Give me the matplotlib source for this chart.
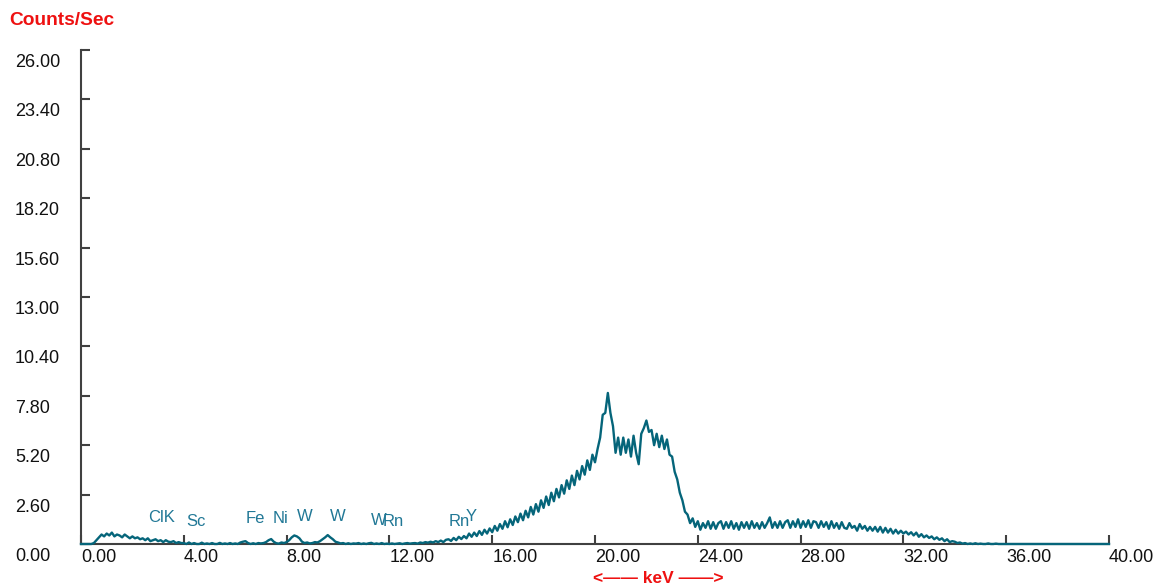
import numpy as np
import matplotlib
matplotlib.use("Agg")
import matplotlib.pyplot as plt

plt.rcParams["font.family"] = ["Liberation Sans", "DejaVu Sans"]

# spectrum, 0.1 keV channels from 0.0 to 35.9 keV (counts/sec), zero after
energy_kev = np.round(np.arange(0, 36.0, 0.1), 1)
counts = [
    0, 0, 0, 0, 0, 0.05, 0.2, 0.35, 0.5, 0.4,
    0.55, 0.45, 0.6, 0.4, 0.5, 0.45, 0.35, 0.5, 0.4, 0.3,
    0.4, 0.3, 0.35, 0.25, 0.3, 0.2, 0.3, 0.15, 0.2, 0.25,
    0.15, 0.2, 0.1, 0.2, 0.12, 0.1, 0.15, 0.05, 0.1, 0.05,
    0.05, 0, 0.08, 0, 0.05, 0, 0, 0.07, 0, 0.03,
    0, 0.05, 0, 0, 0.06, 0, 0.03, 0, 0.05, 0,
    0.03, 0, 0.08, 0.12, 0.15, 0.05, 0, 0.04, 0, 0.05,
    0.03, 0.05, 0.1, 0.2, 0.26, 0.12, 0.04, 0.02, 0.08, 0.05,
    0.1, 0.2, 0.35, 0.45, 0.4, 0.3, 0.12, 0.05, 0.08, 0.03,
    0.05, 0.1, 0.08, 0.15, 0.25, 0.35, 0.47, 0.35, 0.25, 0.12,
    0.08, 0.03, 0.05, 0, 0.04, 0, 0.03, 0.02, 0.05, 0,
    0.03, 0, 0.04, 0.06, 0, 0.03, 0, 0.05, 0, 0.02,
    0, 0.03, 0, 0.02, 0.04, 0, 0.03, 0.05, 0.02, 0.04,
    0.05, 0.02, 0.08, 0.05, 0.1, 0.07, 0.12, 0.08, 0.15, 0.1,
    0.18, 0.1, 0.22, 0.25, 0.16, 0.32, 0.2, 0.38, 0.26, 0.42,
    0.3, 0.55, 0.38, 0.6, 0.42, 0.68, 0.48, 0.75, 0.55, 0.82,
    0.62, 0.95, 0.7, 1.05, 0.8, 1.2, 0.88, 1.3, 1.0, 1.45,
    1.15, 1.6, 1.25, 1.75, 1.4, 1.95, 1.55, 2.1, 1.7, 2.3,
    1.9, 2.5, 2.05, 2.7, 2.25, 2.9, 2.45, 3.1, 2.65, 3.35,
    2.9, 3.6, 3.1, 3.85, 3.4, 4.1, 3.65, 4.4, 3.9, 4.7,
    4.3, 5.0, 5.6, 6.8, 6.9, 7.95, 6.9, 6.2, 4.8, 5.6,
    4.7, 5.6, 4.8, 5.5, 4.6, 5.7, 4.8, 4.2, 5.8, 6.1,
    6.5, 5.9, 6.0, 5.2, 5.8, 5.1, 5.7, 5.0, 5.5, 4.7,
    4.6, 3.8, 3.4, 2.7, 2.3, 1.7, 1.55, 1.1, 1.35, 0.9,
    1.2, 0.75, 1.1, 0.85, 1.2, 0.8, 1.15, 0.8, 1.1, 1.2,
    0.8, 1.15, 0.85, 1.2, 0.8, 1.1, 0.75, 1.15, 0.85, 1.15,
    0.8, 1.2, 0.85, 1.1, 0.8, 1.15, 0.85, 1.1, 1.4, 0.85,
    1.15, 0.85, 1.2, 0.85, 1.15, 1.25, 0.85, 1.2, 0.9, 1.3,
    0.85, 1.2, 0.9, 1.25, 0.85, 1.2, 1.15, 0.85, 1.2, 0.9,
    1.15, 0.8, 1.2, 0.85, 1.1, 0.8, 1.15, 0.85, 0.8, 1.1,
    0.85, 0.95, 0.7, 1.05, 0.8, 0.95, 0.7, 0.9, 0.7, 0.9,
    0.65, 0.9, 0.6, 0.85, 0.6, 0.8, 0.55, 0.75, 0.55, 0.7,
    0.55, 0.65, 0.5, 0.62, 0.45, 0.6, 0.38, 0.52, 0.35, 0.45,
    0.32, 0.4, 0.25, 0.35, 0.22, 0.3, 0.15, 0.25, 0.1, 0.15,
    0.12, 0.05, 0.08, 0.02, 0.05, 0, 0.03, 0, 0.04, 0,
    0.02, 0, 0, 0.03, 0, 0, 0.02, 0, 0, 0,
]
tail_kev = [36.0, 40.0]
tail_counts = [0, 0]

# element markers: label, line energy (keV), label height (counts/sec)
elements = ["ClK", "Sc", "Fe", "Ni", "W", "W", "W", "Rn", "Rn", "Y"]
element_kev = [2.62, 4.09, 6.40, 7.47, 8.40, 9.67, 11.29, 11.73, 14.32, 14.96]
element_height = [1.42, 1.16, 1.32, 1.32, 1.47, 1.47, 1.26, 1.16, 1.21, 1.47]

x_ticks = [0, 4, 8, 12, 16, 20, 24, 28, 32, 36, 40]
y_ticks = [0, 2.6, 5.2, 7.8, 10.4, 13.0, 15.6, 18.2, 20.8, 23.4, 26.0]

W, H = 1166, 587
fig = plt.figure(figsize=(W / 100, H / 100), dpi=100)
ax = fig.add_axes([81 / W, (H - 544) / H, (1109 - 81) / W, (544 - 50) / H])

line_col = "#05657a"
axis_col = "#404040"
label_col = "#217896"

x_all = np.concatenate([energy_kev, tail_kev])
y_all = np.concatenate([counts, tail_counts])
ax.plot(x_all, y_all, color=line_col, lw=1.7, zorder=3, clip_on=False)

ax.set_xlim(0, 40)
ax.set_ylim(0, 26)
for s in ["top", "right"]:
    ax.spines[s].set_visible(False)
for s in ["left", "bottom"]:
    ax.spines[s].set_color(axis_col)
    ax.spines[s].set_linewidth(1.5)

ax.set_xticks(x_ticks)
ax.set_yticks(y_ticks)
ax.set_xticklabels([])
ax.set_yticklabels([])
ax.tick_params(direction="in", length=6.5, width=1.5, color=axis_col)

# tick labels sit below/right of the tick, left aligned like the instrument software
for v in x_ticks:
    ax.annotate(f"{v:.2f}", xy=(v, 0), xycoords=("data", "axes fraction"),
                xytext=(0, -17.5), textcoords="offset pixels",
                ha="left", va="baseline", fontsize=13, color="#111111",
                annotation_clip=False)
for v in y_ticks:
    ax.annotate(f"{v:.2f}", xy=(0, v), xycoords=("axes fraction", "data"),
                xytext=(-66, -17), textcoords="offset pixels",
                ha="left", va="baseline", fontsize=13, color="#111111",
                annotation_clip=False)

for name, e, h in zip(elements, element_kev, element_height):
    ax.text(e, h, name, ha="left", va="center", fontsize=12, color=label_col)

fig.text(9 / W, (H - 25) / H, "Counts/Sec", color="#ee1111", fontsize=13.8,
         fontweight="bold", ha="left", va="baseline")
fig.text(658 / W, (H - 583) / H, "<\u2014\u2014 keV \u2014\u2014>", color="#ee1111",
         fontsize=12.5, fontweight="bold", ha="center", va="baseline")

fig.savefig("out.png", dpi=100)
